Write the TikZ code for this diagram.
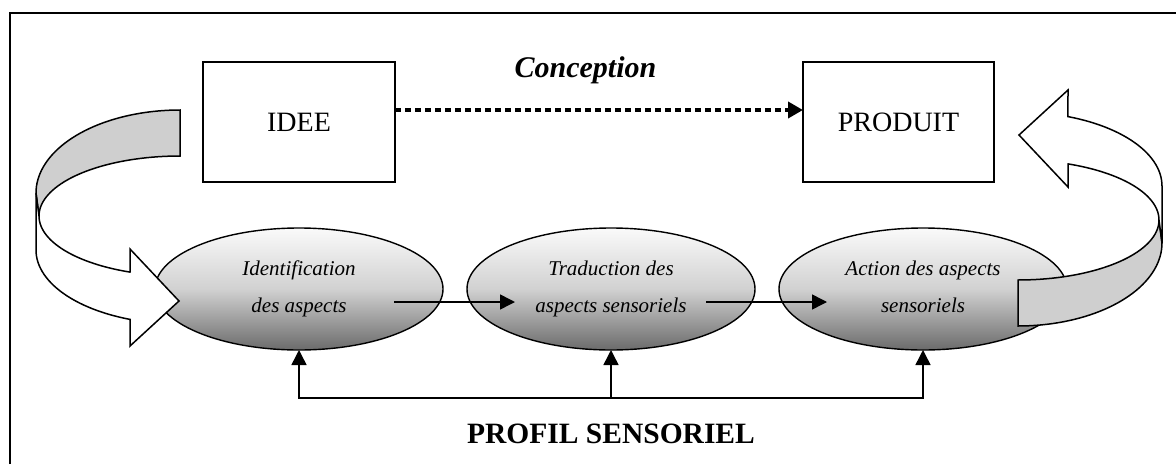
\documentclass[tikz,border=0pt]{standalone}
\usepackage{fontspec}
\setmainfont{Liberation Serif}
\usetikzlibrary{shapes.geometric,arrows.meta}
\tikzset{
 boxnode/.style={draw, line width=1.6pt, minimum width=192pt, minimum height=120pt, inner sep=0pt, outer sep=0pt, font=\fontsize{28}{34}\selectfont},
 ell/.style={ellipse, draw, line width=1.4pt, minimum width=288pt, minimum height=122pt, inner sep=0pt, outer sep=0pt, top color=black!2, bottom color=black!58, middle color=black!18, align=center, font=\fontsize{21}{24}\selectfont\itshape},
 conn/.style={line width=1.5pt, -{Triangle[length=15pt,width=15pt]}},
 ribbon/.style={line width=1.5pt},
 dotarrow/.style={line width=4.5pt, dash pattern=on 6pt off 4pt, -{Triangle[length=15pt,width=16pt]}},
}
\newcommand\ribbonarrow{%
 \draw[ribbon, fill=black!19] (180,110) -- plot[domain=270:180,samples=40] ({180+144*cos(\x)},{193+83*sin(\x)}) -- (39,216) -- plot[domain=180:270,samples=40] ({180+141*cos(\x)},{216+60*sin(\x)}) -- cycle;
 \draw[ribbon, fill=white] (36,193) -- (36,250) -- plot[domain=180:110.3,samples=30] ({180+144*cos(\x)},{250+74*sin(\x)}) -- (130,346) -- (179,301) -- (130,249) -- (130,272) -- plot[domain=110.8:180,samples=30] ({180+141*cos(\x)},{216+60*sin(\x)}) -- cycle;
}
\begin{document}
\begin{tikzpicture}[x=1pt,y=-1pt]
\useasboundingbox (0,0) rectangle (1176,464);
\draw[line width=2pt] (10,464) -- (10,13) -- (1176,13);
\node[boxnode] (idee) at (299,122) {IDEE};
\node[boxnode, minimum width=191pt] (produit) at (898.5,122) {PRODUIT};
\draw[dotarrow] ([yshift=12pt]idee.east) -- ([yshift=12pt]produit.west);
\node[font=\fontsize{30}{36}\selectfont\bfseries\itshape, anchor=base] (conc) at (585.5,77) {Conception};
\node[ell] (e1) at (299,289) {\strut Identification\\[13pt]\strut des aspects};
\node[ell] (e2) at (611,289) {\strut Traduction des\\[13pt]\strut aspects sensoriels};
\node[ell] (e3) at (923,289) {\strut Action des aspects\\[13pt]\strut sensoriels};
\coordinate (a1) at (394,302); \coordinate (t1) at (515,302);
\coordinate (a2) at (706,302); \coordinate (t2) at (827,302);
\draw[conn] (a1) -- (t1);
\draw[conn] (a2) -- (t2);
\coordinate (b1) at (299,398); \coordinate (b2) at (611,398); \coordinate (b3) at (923,398);
\draw[line width=1.5pt, {Triangle[length=15pt,width=15pt]}-{Triangle[length=15pt,width=15pt]}] (e1.south) -- (b1) -- (b3) -- (e3.south);
\draw[conn] (b2) -- (e2.south);
\node[font=\fontsize{29.5}{35}\selectfont\bfseries, anchor=base] (profil) at (611,443) {PROFIL SENSORIEL};
\ribbonarrow
\begin{scope}[rotate around={180:(599,218)}]
\ribbonarrow
\end{scope}
\end{tikzpicture}
\end{document}
